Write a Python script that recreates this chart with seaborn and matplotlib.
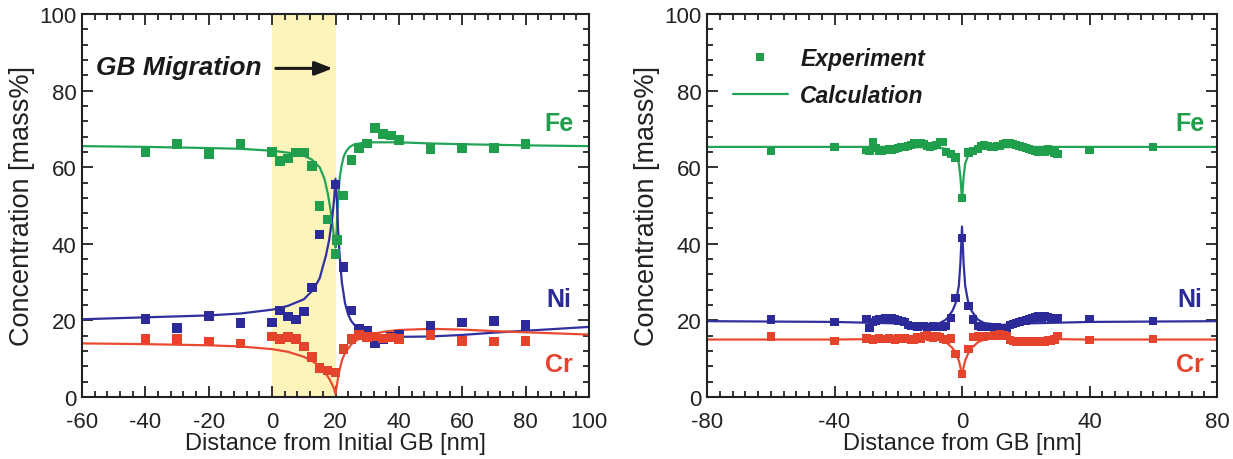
import numpy as np
import pandas as pd
import matplotlib
matplotlib.use("Agg")
import matplotlib.pyplot as plt
from matplotlib.lines import Line2D
from matplotlib.ticker import MultipleLocator
import seaborn as sns

# ---------------- Left panel: experiment ----------------
left_exp_x = [-40, -30, -20, -10, 0, 2.5, 5, 7.5, 10, 12.5, 15, 17.5, 20, 20.5,
              22.5, 25, 27.5, 30, 32.5, 35, 37.5, 40, 50, 60, 70, 80]
left_exp_fe = [63.8, 66.0, 63.5, 66.1, 64.0, 61.6, 62.3, 63.8, 63.8, 60.3, 49.8, 46.3, 37.4, 41.0,
               52.6, 61.9, 64.9, 66.2, 70.3, 68.6, 68.3, 67.1, 64.8, 65.0, 65.0, 66.0]
left_exp_ni = [20.3, 18.0, 21.2, 19.3, 19.5, 22.6, 21.0, 20.2, 22.3, 28.6, 42.4, None, 55.5, None,
               34.0, 22.6, 17.7, 17.4, 14.1, 15.1, 15.6, 16.2, 18.7, 19.5, 19.9, 18.8]
left_exp_cr = [15.2, 15.1, 14.5, 14.0, 15.8, 15.1, 15.6, 15.1, 13.2, 10.4, 7.5, 6.9, 6.4, None,
               12.5, 15.1, 16.2, 15.6, 15.8, 15.3, 15.5, 15.1, 16.2, 14.7, 14.5, 14.7]

# ---------------- Left panel: calculation ----------------
left_fe_calc_x = [-60, -40, -20, -10, 0, 5, 10, 12.5, 15, 16.5, 17.6, 18.5, 19.2, 19.7, 20.0,
                  20.4, 20.8, 21.3, 21.9, 22.6, 23.4, 24.5, 26, 30, 40, 50, 60, 80, 100]
left_fe_calc_y = [65.5, 65.3, 65.0, 64.8, 64.3, 63.8, 63.0, 62.0, 60.0, 57.0, 53.0, 48.5, 44.0, 40.5, 39.0,
                  44.0, 51.6, 57.0, 60.3, 62.8, 64.2, 65.3, 66.0, 66.5, 66.5, 66.2, 66.0, 65.7, 65.5]

left_ni_calc_x = [-60, -40, -20, -10, 0, 5, 10, 13, 15, 17, 18, 19, 19.6, 20.0, 20.4, 20.8,
                  21.3, 22, 23, 24, 25, 27, 30, 35, 40, 50, 60, 70, 80, 100]
left_ni_calc_y = [20.3, 20.8, 21.3, 21.8, 22.8, 23.8, 25.5, 28.0, 31.0, 37.0, 41.0, 47.0, 52.0, 57.0, 52.0, 44.0,
                  37.0, 30.0, 24.5, 21.5, 19.8, 17.8, 16.8, 16.0, 15.7, 15.8, 16.2, 16.8, 17.3, 18.3]

left_cr_calc_x = [-60, -40, -20, -10, 0, 5, 10, 13, 15, 17, 18, 19, 19.6, 20.0, 20.4, 21,
                  22, 23, 25, 27, 30, 35, 40, 50, 60, 70, 80, 100]
left_cr_calc_y = [14.0, 13.8, 13.5, 13.2, 12.5, 11.8, 10.5, 9.2, 8.0, 6.0, 4.8, 3.2, 2.0, 0.8, 3.0, 6.0,
                  9.5, 11.5, 13.8, 15.0, 16.0, 17.0, 17.5, 17.8, 17.6, 17.2, 16.9, 16.3]

# ---------------- Right panel: experiment ----------------
right_exp_x = [-60, -40,
               -30, -29, -28, -27, -26, -25, -24, -23, -22, -21, -20, -19, -18, -17, -16, -15, -14,
               -13, -12, -11, -10, -9, -8, -7, -6, -5,
               -3.5, -2, 0, 2, 3.5,
               5, 6, 7, 8, 9, 10, 11, 12, 13, 14, 15, 16, 17, 18, 19, 20, 21, 22, 23, 24, 25, 26,
               27, 28, 29, 30,
               40, 60]
right_exp_fe = [64.2, 65.3,
                64.5, 64.3, 66.5, 65.0, 64.4, 64.2, 64.5, 64.8, 64.6, 64.8, 65.0, 65.3, 65.2, 65.5, 65.8, 66.2, 66.4,
                66.2, 66.0, 65.6, 65.3, 65.5, 65.8, 66.5, 66.6, 64.0,
                63.4, 62.5, 52.0, 63.8, 64.3,
                64.8, 65.5, 65.8, 65.6, 65.3, 65.2, 65.5, 65.6, 66.0, 66.3, 66.2, 66.0, 65.8, 65.6, 65.3, 65.0, 64.8, 64.5, 64.2, 63.9, 64.2, 64.0,
                64.6, 64.2, 63.8, 63.5,
                64.5, 65.3]
right_exp_ni = [20.2, 19.6,
                20.3, 18.0, 19.5, 20.0, 20.2, 20.3, 20.5, 20.3, 20.5, 20.2, 20.0, 19.8, 19.5, 18.8, 18.5, 18.5, 18.3,
                18.5, 18.5, 18.3, 18.3, 18.5, 18.3, 18.2, 18.4, 18.6,
                20.6, 25.8, 41.5, 23.8, 20.2,
                18.6, 18.4, 18.2, 18.3, 18.2, 18.0, 18.2, 18.0, 18.1, 17.9, 18.8, 19.0, 19.3, 19.5, 19.8, 20.0, 20.2, 20.5, 20.8, 21.0, 20.8, 21.2,
                20.9, 20.6, 20.3, 20.5,
                20.3, 19.8]
right_exp_cr = [15.8, 14.7,
                15.3, 15.2, 15.0, 15.2, 15.3, 15.1, 15.2, 15.3, 15.2, 15.0, 15.3, 15.1, 15.4, 15.2, 15.0, 14.8, 15.5,
                15.3, 16.0, 16.2, 15.8, 15.5, 15.8, 15.6, 15.2, 15.0,
                15.3, 11.2, 6.0, 12.5, 15.6,
                15.8, 16.0, 15.8, 16.0, 15.9, 16.2, 16.0, 16.3, 16.1, 16.0, 14.8, 14.6, 14.5, 14.6, 14.4, 14.5, 14.3, 14.6, 14.5, 14.4, 14.6, 14.5,
                14.8, 14.7, 15.0, 16.0,
                14.8, 15.2]

# ---------------- Right panel: calculation ----------------
right_calc_x = [-80, -40, -20, -12, -7, -5, -3, -2, -1, -0.5, 0, 0.5, 1, 2, 3, 5, 7, 12, 20, 40, 80]
right_fe_calc = [65.3, 65.3, 65.3, 65.2, 65.0, 64.8, 64.0, 63.2, 61.0, 57.5, 51.5, 57.5, 61.0, 63.2, 64.0,
                 64.8, 65.0, 65.2, 65.3, 65.3, 65.3]
right_ni_calc = [19.8, 19.6, 19.2, 18.8, 19.3, 20.2, 22.5, 24.5, 29.0, 35.0, 44.5, 35.0, 29.0, 24.5, 22.5,
                 20.2, 19.3, 18.8, 19.2, 19.6, 19.8]
right_cr_calc = [15.0, 15.0, 15.2, 15.5, 15.0, 14.3, 12.8, 11.5, 9.5, 7.8, 5.5, 7.8, 9.5, 11.5, 12.8,
                 14.3, 15.0, 15.5, 15.2, 15.0, 15.0]

elements = ["Fe", "Ni", "Cr"]
colors = {"Fe": "#1f9e4c", "Ni": "#2b2a98", "Cr": "#e6432c"}
line_colors = {"Fe": "#22a457", "Ni": "#3030a0", "Cr": "#ea4a30"}

sns.set_theme(style="ticks")
plt.rcParams["font.family"] = ["Liberation Sans", "DejaVu Sans"]
plt.rcParams["axes.unicode_minus"] = False

fig = plt.figure(figsize=(12.33, 4.60), dpi=100)
axL = fig.add_axes([82 / 1233, 1 - 398 / 460, 507 / 1233, 383 / 460])
axR = fig.add_axes([707 / 1233, 1 - 398 / 460, 510 / 1233, 383 / 460])

exp_left = pd.DataFrame({"x": left_exp_x, "Fe": left_exp_fe, "Ni": left_exp_ni, "Cr": left_exp_cr})
exp_left = exp_left.melt(id_vars="x", var_name="el", value_name="c").dropna()
calc_left = pd.concat([
    pd.DataFrame({"x": left_fe_calc_x, "c": left_fe_calc_y, "el": "Fe"}),
    pd.DataFrame({"x": left_ni_calc_x, "c": left_ni_calc_y, "el": "Ni"}),
    pd.DataFrame({"x": left_cr_calc_x, "c": left_cr_calc_y, "el": "Cr"}),
])

exp_right = pd.DataFrame({"x": right_exp_x, "Fe": right_exp_fe, "Ni": right_exp_ni, "Cr": right_exp_cr})
exp_right = exp_right.melt(id_vars="x", var_name="el", value_name="c")
calc_right = pd.DataFrame({"x": right_calc_x, "Fe": right_fe_calc, "Ni": right_ni_calc, "Cr": right_cr_calc})
calc_right = calc_right.melt(id_vars="x", var_name="el", value_name="c")

# shading for GB migration
axL.axvspan(0, 20, color="#fcf4bb", zorder=0, lw=0)

for ax, exp, calc, ms in [(axL, exp_left, calc_left, 48), (axR, exp_right, calc_right, 36)]:
    sns.lineplot(data=calc, x="x", y="c", hue="el", palette=line_colors, hue_order=elements,
                 sort=False, estimator=None, lw=1.6, ax=ax, legend=False, zorder=2)
    sns.scatterplot(data=exp, x="x", y="c", hue="el", palette=colors, hue_order=elements,
                    marker="s", s=ms, linewidth=0, ax=ax, legend=False, zorder=3)

for ax, xlim, xmaj, xmin, xlabel in [
    (axL, (-60, 100), 20, 4, "Distance from Initial GB [nm]"),
    (axR, (-80, 80), 40, 4, "Distance from GB [nm]"),
]:
    ax.set_xlim(*xlim)
    ax.set_ylim(0, 100)
    ax.xaxis.set_major_locator(MultipleLocator(xmaj))
    ax.xaxis.set_minor_locator(MultipleLocator(xmin))
    ax.yaxis.set_major_locator(MultipleLocator(20))
    ax.yaxis.set_minor_locator(MultipleLocator(4))
    ax.tick_params(which="both", direction="in", top=True, right=True, color="#222222", width=1.3)
    ax.tick_params(which="major", length=8, labelsize=16, labelcolor="#222222")
    ax.tick_params(axis="x", which="major", pad=10)
    ax.tick_params(axis="y", which="major", pad=4)
    ax.tick_params(which="minor", length=4)
    for sp in ax.spines.values():
        sp.set_linewidth(1.5)
        sp.set_color("#222222")
        sp.set_visible(True)
    ax.set_xlabel(xlabel, fontsize=17, color="#222222", labelpad=0)
    ax.set_ylabel("Concentration [mass%]", fontsize=19.5, color="#222222", labelpad=3)
    ax.set_facecolor("white")

for ax, xpos in [(axL, 90.5), (axR, 71.5)]:
    ax.text(xpos, 71.5, "Fe", color=colors["Fe"], fontsize=18, fontweight="bold", ha="center", va="center")
    ax.text(xpos, 25.5, "Ni", color=colors["Ni"], fontsize=18, fontweight="bold", ha="center", va="center")
    ax.text(xpos, 8.5, "Cr", color=colors["Cr"], fontsize=18, fontweight="bold", ha="center", va="center")

axL.text(-55.5, 86.2, "GB Migration", fontsize=19, fontweight="bold", fontstyle="italic",
         color="#1a1a1a", ha="left", va="center")
axL.annotate("", xy=(20, 85.8), xytext=(0.3, 85.8),
             arrowprops=dict(arrowstyle="-|>,head_length=0.9,head_width=0.35", color="#1a1a1a", lw=2.2))

handles = [
    Line2D([], [], marker="s", linestyle="none", color=colors["Fe"], markersize=6, markeredgewidth=0),
    Line2D([], [], color=line_colors["Fe"], lw=1.6),
]
leg = axR.legend(handles, ["Experiment", "Calculation"], loc="upper left",
                 bbox_to_anchor=(0.05, 0.915), frameon=False, borderaxespad=0, borderpad=0,
                 handlelength=2.4, handletextpad=0.55, labelspacing=0.65,
                 prop=dict(family=["Liberation Sans", "DejaVu Sans"], weight="bold", style="italic", size=16.5))
for t in leg.get_texts():
    t.set_color("#1a1a1a")

fig.savefig("out.png", dpi=100, facecolor="white")
